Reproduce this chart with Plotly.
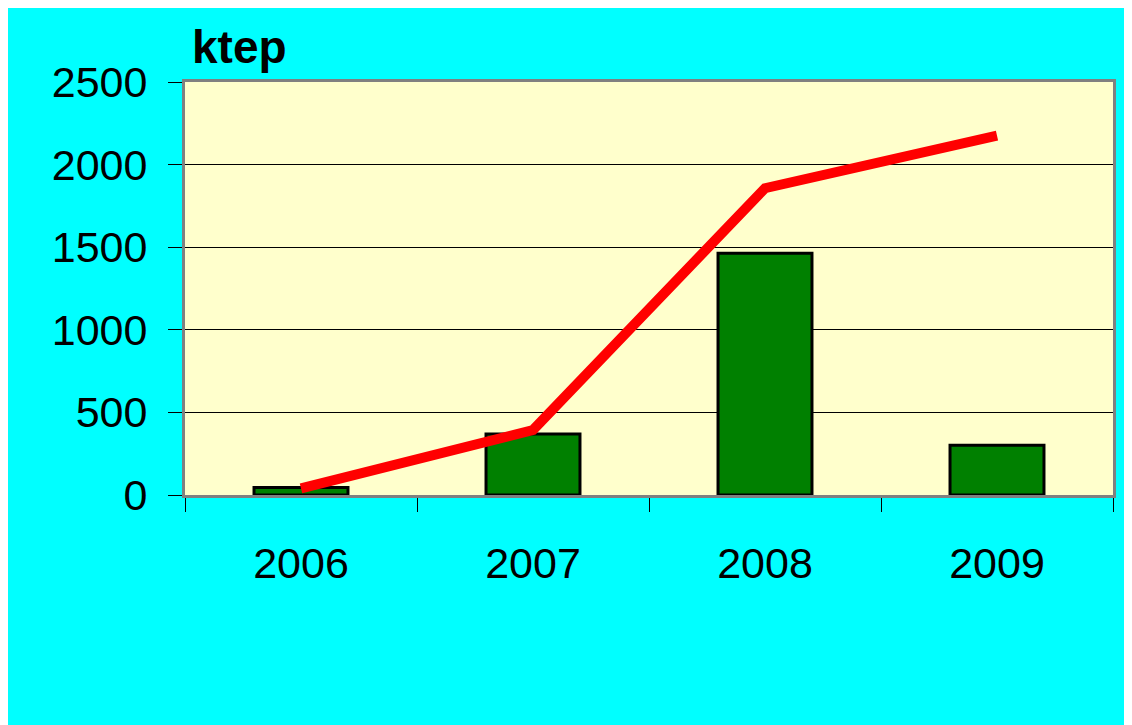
import plotly.graph_objects as go

years = ["2006", "2007", "2008", "2009"]
bar_values = [45, 369, 1463, 301]
line_values = [40, 393, 1857, 2175]
y_ticks = [0, 500, 1000, 1500, 2000, 2500]
unit_label = "ktep"

W, H = 1140, 717
L, R, T, B = 177, 35, 74, 230
pw, ph = W - L - R, H - T - B

fig = go.Figure()
fig.add_trace(go.Bar(
    x=years, y=bar_values, width=0.405,
    marker=dict(color="#008000", line=dict(color="black", width=3)),
    showlegend=False,
))
fig.add_trace(go.Scatter(
    x=years, y=line_values, mode="lines",
    line=dict(color="#FF0000", width=10),
    showlegend=False,
))

font_family = "Liberation Sans, Arial, sans-serif"

fig.update_layout(
    width=W, height=H,
    margin=dict(l=L, r=R, t=T, b=B, pad=0),
    paper_bgcolor="#00FFFF",
    plot_bgcolor="#FFFFCC",
    font=dict(family=font_family, color="black"),
    xaxis=dict(
        type="category",
        tickson="boundaries",
        ticks="outside", ticklen=14, tickwidth=1, tickcolor="black",
        showline=True, linecolor="#808080", linewidth=3, mirror=True,
        showgrid=False,
        tickfont=dict(size=43, family=font_family, color="black"),
        ticklabelstandoff=28,
        fixedrange=True,
    ),
    yaxis=dict(
        range=[0, 2500],
        tickvals=y_ticks,
        ticktext=[str(v) for v in y_ticks],
        ticks="outside", ticklen=14, tickwidth=1, tickcolor="black",
        showline=True, linecolor="#808080", linewidth=3, mirror=True,
        showgrid=True, gridcolor="black", gridwidth=1,
        zeroline=False,
        tickfont=dict(size=43, family=font_family, color="black"),
        ticklabelstandoff=12,
        fixedrange=True,
    ),
    annotations=[dict(
        text="<b>" + unit_label + "</b>",
        xref="paper", yref="paper",
        x=(182 - L) / pw, y=(H - B - 39) / ph,
        xanchor="left", yanchor="middle",
        showarrow=False,
        font=dict(size=46, family=font_family, color="black"),
    )],
)

fig.write_html("out.html")
